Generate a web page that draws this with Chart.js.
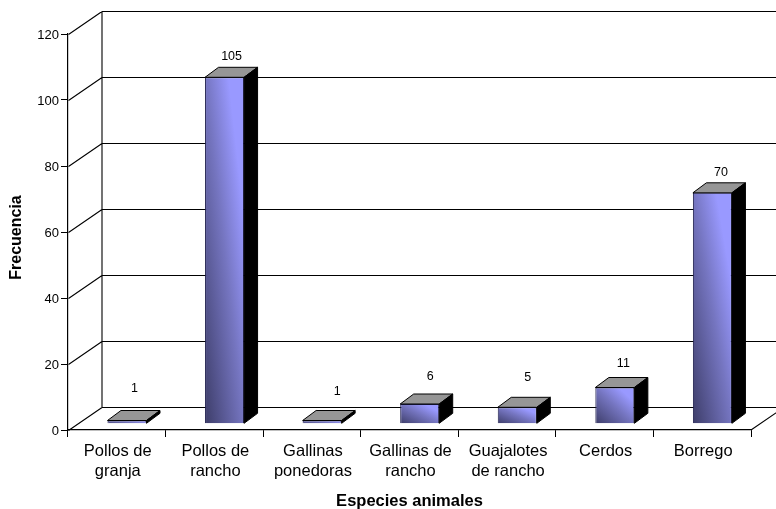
<!DOCTYPE html>
<html>
<head>
<meta charset="utf-8">
<style>html,body{margin:0;padding:0;background:#fff}canvas{display:block}</style>
<script src="https://cdn.jsdelivr.net/npm/chart.js@4"></script>
</head>
<body>
<canvas id="c" width="776" height="509"></canvas>
<script>
const categories = [["Pollos de","granja"],["Pollos de","rancho"],["Gallinas","ponedoras"],["Gallinas de","rancho"],["Guajalotes","de rancho"],["Cerdos"],["Borrego"]];
const frequencies = [1,105,1,6,5,11,70];
const yTicks = [0,20,40,60,80,100,120];
const xTitle = "Especies animales";
const yTitle = "Frecuencia";

const FONT = '"Liberation Sans", Arial, sans-serif';
const WALL = {dx:33.5, dy:-23};
const BAR_SHIFT = {dx:10.2, dy:-6.2};
const BAR_DEPTH = {dx:13.5, dy:-10};
const labelNudge = [[-0.5,1.5],[-1,-0.5],[7,4],[2.5,1],[2.5,0],[0.5,0],[0.5,-0.5]];

function lift(v){ return Math.max(20, 34 - v*0.9); }

function barFill(ctx){
  if(ctx.type !== 'data') return '#9999ff';
  const c = ctx.chart, x = c.scales.x, y = c.scales.y;
  if(!c.chartArea) return '#9999ff';
  const cx = x.getPixelForValue(ctx.dataIndex), w = 39;
  const l = cx - w/2, b = y.getPixelForValue(0), t = y.getPixelForValue(ctx.raw), h = b - t;
  const n = w*w + h*h;
  const s = 2*w*h/n;
  const g = c.ctx.createLinearGradient(l, b, l + h*s, b - w*s);
  g.addColorStop(0, '#3d3d69');
  g.addColorStop(0.5, '#7575c0');
  g.addColorStop(0.8, '#9999ff');
  g.addColorStop(1, '#9999ff');
  return g;
}

const frame3d = {
  id:'frame3d',
  beforeDatasetsDraw(chart){
    const {ctx, chartArea:a, scales:{y}} = chart;
    ctx.save();
    ctx.strokeStyle = '#000'; ctx.lineWidth = 1.1;
    const fx = Math.round(a.left)+0.5;
    const bx = fx + WALL.dx;
    ctx.beginPath();
    yTicks.forEach(v=>{
      const py = Math.round(y.getPixelForValue(v))+0.5;
      ctx.moveTo(fx, py); ctx.lineTo(bx, py+WALL.dy);
      ctx.moveTo(bx, py+WALL.dy); ctx.lineTo(776, py+WALL.dy);
    });
    ctx.moveTo(bx, y.getPixelForValue(120)+WALL.dy);
    ctx.lineTo(bx, y.getPixelForValue(0)+WALL.dy);
    ctx.moveTo(a.right, y.getPixelForValue(0)); ctx.lineTo(a.right+WALL.dx, y.getPixelForValue(0)+WALL.dy);
    ctx.stroke();
    ctx.restore();
  },
  beforeDatasetDraw(chart){
    chart.ctx.save();
    chart.ctx.translate(BAR_SHIFT.dx, BAR_SHIFT.dy);
  },
  afterDatasetDraw(chart,args){
    const ctx = chart.ctx, d = BAR_DEPTH;
    chart.getDatasetMeta(args.index).data.forEach(el=>{
      const l = el.x-el.width/2, r = el.x+el.width/2, t = el.y, b = el.base;
      ctx.lineWidth = 1; ctx.strokeStyle = '#000';
      ctx.fillStyle = '#969696';
      ctx.beginPath();
      ctx.moveTo(l,t); ctx.lineTo(l+d.dx,t+d.dy); ctx.lineTo(r+d.dx,t+d.dy); ctx.lineTo(r,t); ctx.closePath();
      ctx.fill(); ctx.stroke();
      ctx.fillStyle = '#000';
      ctx.beginPath();
      ctx.moveTo(r,t); ctx.lineTo(r+d.dx,t+d.dy); ctx.lineTo(r+d.dx,b+d.dy); ctx.lineTo(r,b); ctx.closePath();
      ctx.fill(); ctx.stroke();
    });
    ctx.restore();
  },
  afterDatasetsDraw(chart){
    const ctx = chart.ctx;
    ctx.save();
    ctx.fillStyle = '#000';
    ctx.font = '12.5px '+FONT;
    ctx.textAlign = 'center'; ctx.textBaseline = 'middle';
    chart.getDatasetMeta(0).data.forEach((el,i)=>{
      const v = frequencies[i], n = labelNudge[i];
      ctx.fillText(String(v), el.x+BAR_SHIFT.dx+8+n[0], el.y+BAR_SHIFT.dy-lift(v)+n[1]);
    });
    ctx.translate(17, 237.5);
    ctx.rotate(-Math.PI/2);
    ctx.font = 'bold 16px '+FONT;
    ctx.fillText(yTitle, 0, 0);
    ctx.restore();
  }
};

new Chart(document.getElementById('c'),{
  type:'bar',
  data:{labels:categories,datasets:[{data:frequencies,backgroundColor:barFill,borderColor:'#20204f',borderWidth:1,barPercentage:0.4,categoryPercentage:1,clip:false}]},
  options:{
    responsive:false,animation:false,
    layout:{padding:{top:34,right:25,left:0,bottom:0}},
    plugins:{legend:{display:false},tooltip:{enabled:false}},
    scales:{
      x:{
        grid:{drawOnChartArea:false,drawTicks:true,tickLength:7,color:'#000',offset:true},
        border:{color:'#000',width:1.2},
        ticks:{color:'#000',font:{family:FONT,size:16.5,lineHeight:1.18},padding:5,maxRotation:0,autoSkip:false,labelOffset:1},
        title:{display:true,text:xTitle,color:'#000',font:{family:FONT,size:16.5,weight:'bold',lineHeight:0.87},padding:{top:0,bottom:0}},
        afterFit(s){s.height=79;}
      },
      y:{
        min:0,max:120,
        grid:{drawOnChartArea:false,drawTicks:true,tickLength:7,color:'#000'},
        border:{color:'#000',width:1.2},
        ticks:{color:'#000',font:{family:FONT,size:13},padding:2,stepSize:20,labelOffset:1.3},
        afterFit(s){s.width=68;}
      }
    }
  },
  plugins:[frame3d]
});
</script>
</body>
</html>
